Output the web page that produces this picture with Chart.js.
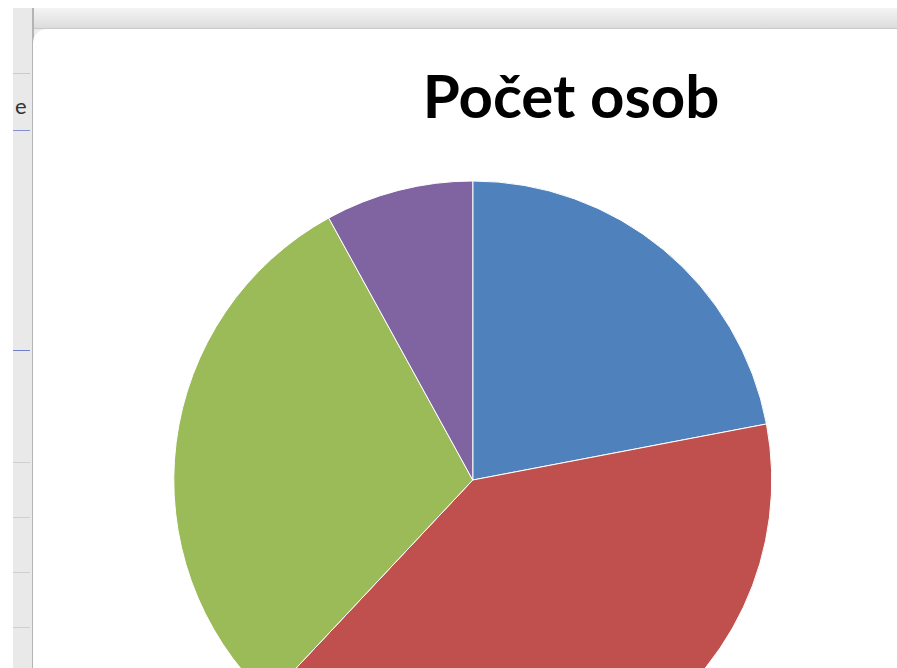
<!DOCTYPE html>
<html>
<head>
<meta charset="utf-8">
<script src="https://cdn.jsdelivr.net/npm/chart.js@4"></script>
<style>
  html, body { margin: 0; padding: 0; overflow: hidden; width: 897px; height: 668px; background: #fff; }
  #sheet { position: absolute; left: 13px; top: 8px; width: 884px; height: 660px; background: #ececec; }
  #topbar { position: absolute; left: 13px; top: 8px; width: 884px; height: 20px; background: linear-gradient(#f4f4f4, #dcdcdc); border-bottom: 1px solid #c8c8c8; }
  #leftbar { position: absolute; left: 13px; top: 8px; width: 19px; height: 660px; background: #e9e9e9; border-right: 2px solid #b4b4b4; }
  .row { position: absolute; left: 13px; width: 17px; height: 1px; background: #cfcfcf; }
  #cellText { position: absolute; left: 15px; top: 92px; font: 22px Lato, sans-serif; color: #333; width: 16px; overflow: hidden; }
  #frame { position: absolute; left: 33px; top: 29px; width: 900px; height: 700px; background: #fff; border-top-left-radius: 14px; }
  #wrap { position: absolute; left: 33px; top: 29px; }
</style>
</head>
<body>
<div id="sheet"></div>
<div id="topbar"></div>
<div id="leftbar"></div>
<div class="row" style="top:73px;background:#b8d8b8"></div>
<div class="row" style="top:130px;background:#8090d0"></div>
<div class="row" style="top:350px;background:#7080d0"></div>
<div class="row" style="top:462px"></div>
<div class="row" style="top:517px"></div>
<div class="row" style="top:572px"></div>
<div class="row" style="top:627px"></div>
<div id="cellText">e</div>
<div id="frame"></div>
<div id="wrap"><canvas id="graf" width="1076" height="751"></canvas></div>
<script>
const kategorie = ['Kategorie 1', 'Kategorie 2', 'Kategorie 3', 'Kategorie 4'];
const pocet = [11, 20, 15, 4];
const barvy = ['#4F81BD', '#C0504D', '#9BBB59', '#8064A2'];

const ctx = document.getElementById('graf');
const graf = new Chart(ctx, {
    type: 'pie',
    data: {
        labels: kategorie,
        datasets: [{
            label: 'Počet osob',
            data: pocet,
            backgroundColor: barvy,
            borderColor: '#ffffff',
            borderWidth: 1
        }]
    },
    options: {
        responsive: false,
        animation: false,
        radius: 299,
        layout: { padding: 0 },
        plugins: {
            title: {
                display: true,
                text: 'Počet osob',
                color: '#000',
                font: { family: 'Lato', weight: 'bold', size: 60 },
                padding: { top: 34, bottom: 45 }
            },
            legend: {
                display: true,
                position: 'right',
                labels: {
                    font: { family: 'Lato', size: 18 },
                    color: '#000',
                    boxWidth: 14,
                    padding: 72
                }
            },
            tooltip: { enabled: false }
        }
    }
});
</script>
</body>
</html>
